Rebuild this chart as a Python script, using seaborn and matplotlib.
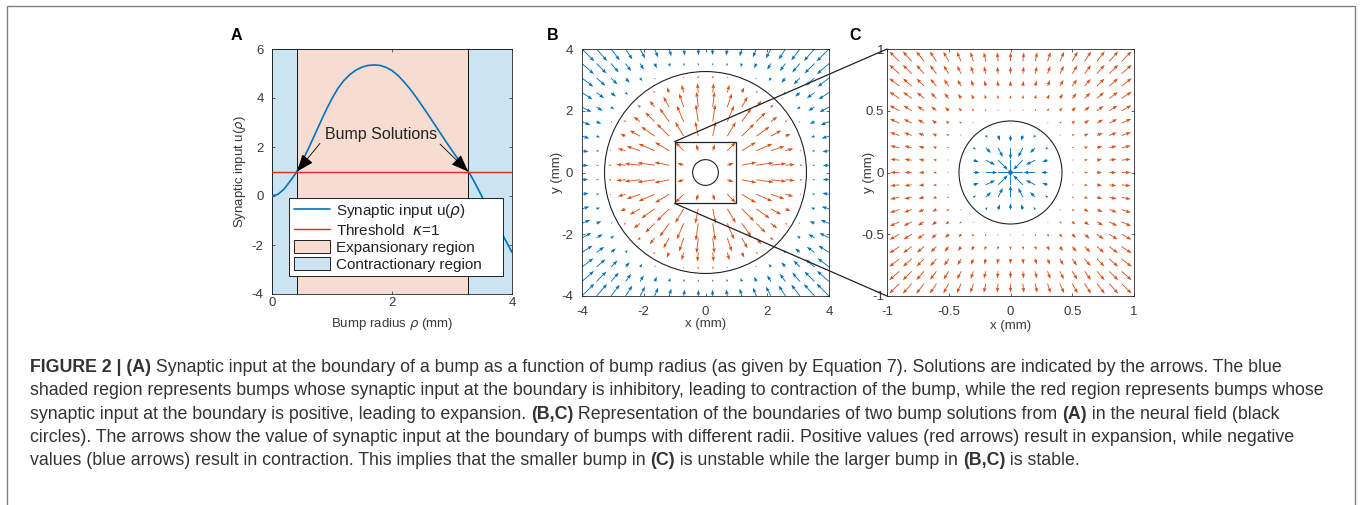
import numpy as np
import pandas as pd
import seaborn as sns
import matplotlib
matplotlib.use("Agg")
import matplotlib.pyplot as plt
from matplotlib import font_manager as fm
from matplotlib.patches import Rectangle, Circle, Patch, ConnectionPatch
from matplotlib.lines import Line2D
from matplotlib.colors import to_rgba

# ---------------- data ----------------
rho = [0.0, 0.1, 0.2, 0.3, 0.4, 0.5, 0.6, 0.7, 0.8, 0.9,
       1.0, 1.1, 1.2, 1.3, 1.4, 1.5, 1.6, 1.7, 1.8, 1.9,
       2.0, 2.1, 2.2, 2.3, 2.4, 2.5, 2.6, 2.7, 2.8, 2.9,
       3.0, 3.1, 3.2, 3.3, 3.4, 3.5, 3.6, 3.7, 3.8, 3.9, 4.0]
u_rho = [0.00, 0.07, 0.28, 0.60, 0.94, 1.40, 1.90, 2.43, 2.97, 3.50,
         3.98, 4.40, 4.72, 4.96, 5.14, 5.26, 5.33, 5.35, 5.33, 5.25,
         5.12, 4.92, 4.66, 4.37, 4.04, 3.69, 3.33, 2.96, 2.59, 2.22,
         1.86, 1.51, 1.19, 0.90, 0.45, -0.03, -0.48, -0.93, -1.38, -1.84, -2.30]
# radial profile beyond the panel-A range (needed for the corners of panel B)
rho_ext = [4.2, 4.4, 4.6, 4.8, 5.0, 5.2, 5.4, 5.6, 5.8]
u_ext = [-3.25, -4.15, -5.0, -5.8, -6.5, -7.15, -7.7, -8.2, -8.6]

kappa = 1.0
rho_solutions = [0.417, 3.27]

xticks_A = [0, 2, 4]
yticks_A = [-4, -2, 0, 2, 4, 6]
ticks_B = [-4, -2, 0, 2, 4]
ticks_C = [-1, -0.5, 0, 0.5, 1]
ticklabels_C = ["-1", "-0.5", "0", "0.5", "1"]
legend_labels = ["Synaptic input u($\\rho$)", "Threshold  $\\kappa$=1",
                 "Expansionary region", "Contractionary region"]
grid_n_B = 18
grid_n_C = 21

caption_lines = [
    [("FIGURE 2 | (A)", True), (" Synaptic input at the boundary of a bump as a function of bump radius (as given by Equation 7). Solutions are indicated by the arrows. The blue", False)],
    [("shaded region represents bumps whose synaptic input at the boundary is inhibitory, leading to contraction of the bump, while the red region represents bumps whose", False)],
    [("synaptic input at the boundary is positive, leading to expansion. ", False), ("(B,C)", True), (" Representation of the boundaries of two bump solutions from ", False), ("(A)", True), (" in the neural field (black", False)],
    [("circles). The arrows show the value of synaptic input at the boundary of bumps with different radii. Positive values (red arrows) result in expansion, while negative", False)],
    [("values (blue arrows) result in contraction. This implies that the smaller bump in ", False), ("(C)", True), (" is unstable while the larger bump in ", False), ("(B,C)", True), (" is stable.", False)],
]

# ---------------- style ----------------
sns.set_theme(style="white")
plt.rcParams["font.family"] = ["Liberation Sans", "DejaVu Sans"]
plt.rcParams["mathtext.fontset"] = "dejavusans"
plt.rcParams["axes.unicode_minus"] = False

_names = {f.name for f in fm.fontManager.ttflist}
CAP_FAMILY = ["Liberation Sans Narrow", "Liberation Sans", "DejaVu Sans"] \
    if "Liberation Sans Narrow" in _names else ["Liberation Sans", "DejaVu Sans"]

BLUE = "#0072BD"
RED = "#D95319"
THR = "#E3262A"
AXC = "#262626"
TXT = "#3a3a3a"
fill_exp = tuple(1 - 0.2 * (1 - c) for c in to_rgba(RED)[:3])
fill_con = tuple(1 - 0.2 * (1 - c) for c in to_rgba(BLUE)[:3])

W, H = 1360, 505
fig = plt.figure(figsize=(W / 100, H / 100), dpi=100)


def px_axes(l, t, r, b):
    return fig.add_axes([l / W, 1 - b / H, (r - l) / W, (b - t) / H])


def style_axes(ax, xpad, ypad):
    for s in ax.spines.values():
        s.set_color(AXC)
        s.set_linewidth(0.6)
        s.set_visible(True)
    ax.tick_params(direction="in", length=2.5, width=0.5, colors=AXC,
                   labelcolor=TXT, labelsize=9.5, top=True, right=True,
                   bottom=True, left=True)
    ax.tick_params(axis="x", pad=xpad)
    ax.tick_params(axis="y", pad=ypad)
    ax.set_facecolor("white")
    ax.grid(False)


axA = px_axes(272, 49, 512, 294)
axB = px_axes(582, 49, 829, 296)
axC = px_axes(887, 49, 1134, 296)

# ---------------- panel A ----------------
xA0, xA1 = 0, 4
axA.axvspan(xA0, rho_solutions[0], facecolor=fill_con, edgecolor="black", lw=0.6, zorder=0)
axA.axvspan(rho_solutions[0], rho_solutions[1], facecolor=fill_exp, edgecolor="black", lw=0.6, zorder=0)
axA.axvspan(rho_solutions[1], xA1, facecolor=fill_con, edgecolor="black", lw=0.6, zorder=0)
dfA = pd.DataFrame({"rho": rho, "u": u_rho})
sns.lineplot(data=dfA, x="rho", y="u", ax=axA, color=BLUE, lw=1.2,
             estimator=None, sort=False, zorder=3)
axA.axhline(kappa, color=THR, lw=1.0, zorder=3)
axA.set_xlim(xA0, xA1)
axA.set_ylim(-4, 6)
axA.set_xticks(xticks_A)
axA.set_yticks(yticks_A)
axA.set_xlabel("Bump radius $\\rho$ (mm)", fontsize=9.5, color=TXT)
axA.set_ylabel("Synaptic input u($\\rho$)", fontsize=9.5, color=TXT)
axA.xaxis.set_label_coords(0.5, -0.09)
axA.yaxis.set_label_coords(-0.1, 0.5)
style_axes(axA, 2.5, 6)

axA.text(1.82, 2.49, "Bump Solutions", ha="center", va="center", fontsize=11.5,
         color="#222222", zorder=5)
arrow_kw = dict(arrowstyle="-|>,head_length=0.9,head_width=0.35", color="black",
                lw=0.6, mutation_scale=12, shrinkA=0, shrinkB=0)
axA.annotate("", xy=(rho_solutions[0], kappa), xytext=(0.8, 2.15), arrowprops=arrow_kw, zorder=5)
axA.annotate("", xy=(rho_solutions[1], kappa), xytext=(2.8, 2.12), arrowprops=arrow_kw, zorder=5)

handles = [Line2D([], [], color=BLUE, lw=1.2), Line2D([], [], color=THR, lw=1.0),
           Patch(facecolor=fill_exp, edgecolor="black", lw=0.6),
           Patch(facecolor=fill_con, edgecolor="black", lw=0.6)]
leg = axA.legend(handles, legend_labels, loc="upper left",
                 bbox_to_anchor=(0.071, 0.0, 0.892, 0.393), mode="expand",
                 borderaxespad=0, frameon=True, fancybox=False, framealpha=1,
                 edgecolor="black", fontsize=11, handlelength=2.4, handleheight=0.95,
                 handletextpad=0.35, labelspacing=0.15, borderpad=0.3)
leg.get_frame().set_linewidth(0.6)
leg.set_zorder(6)
for t in leg.get_texts():
    t.set_color("#222222")

# ---------------- quiver fields ----------------
rho_all = np.array(rho + rho_ext)
u_all = np.array(u_rho + u_ext)


def field(lim, n):
    g = np.linspace(-lim, lim, n)
    X, Y = np.meshgrid(g, g)
    R = np.hypot(X, Y)
    with np.errstate(invalid="ignore", divide="ignore"):
        ex = np.where(R > 0, X / R, 0.0)
        ey = np.where(R > 0, Y / R, 0.0)
    val = np.interp(R, rho_all, u_all) - kappa
    VX, VY = val * ex, val * ey
    dx = 2 * lim / n
    maxlen_ref = 0.9 * np.sqrt(2) * dx
    return X, Y, VX, VY, val, maxlen_ref


def draw_quiver(ax, lim, n):
    X, Y, VX, VY, val, Lref = field(lim, n)
    for mask, col in [(val > 0, RED), (val < 0, BLUE)]:
        vx = np.where(mask, VX, np.nan)
        vy = np.where(mask, VY, np.nan)
        mag = np.sqrt(vx ** 2 + vy ** 2)
        mmax = np.nanmax(mag)
        sc = mmax / Lref
        ax.quiver(X, Y, np.ma.masked_invalid(vx), np.ma.masked_invalid(vy),
                  color=col, angles="xy", scale_units="xy", scale=sc,
                  width=0.0036, headwidth=4.0, headlength=5.5, headaxislength=5.0,
                  minshaft=1, minlength=0.3, pivot="tail", zorder=2)


# ---------------- panel B ----------------
draw_quiver(axB, 4, grid_n_B)
axB.add_patch(Circle((0, 0), rho_solutions[1], fill=False, ec="#222222", lw=0.8, zorder=4))
axB.add_patch(Circle((0, 0), rho_solutions[0], fill=False, ec="#222222", lw=0.8, zorder=4))
axB.add_patch(Rectangle((-1, -1), 2, 2, fill=False, ec="#222222", lw=0.9, zorder=4))
axB.set_xlim(-4, 4)
axB.set_ylim(-4, 4)
axB.set_xticks(ticks_B)
axB.set_yticks(ticks_B)
axB.set_xlabel("x (mm)", fontsize=9.5, color=TXT)
axB.set_ylabel("y (mm)", fontsize=9.5, color=TXT)
axB.xaxis.set_label_coords(0.5, -0.089)
axB.yaxis.set_label_coords(-0.077, 0.5)
style_axes(axB, 7, 6.5)

# ---------------- panel C ----------------
draw_quiver(axC, 1, grid_n_C)
axC.add_patch(Circle((0, 0), rho_solutions[0], fill=False, ec="#222222", lw=0.8, zorder=4))
axC.set_xlim(-1, 1)
axC.set_ylim(-1, 1)
axC.set_xticks(ticks_C)
axC.set_xticklabels(ticklabels_C)
axC.set_yticks(ticks_C)
axC.set_yticklabels(ticklabels_C)
axC.set_xlabel("x (mm)", fontsize=9.5, color=TXT)
axC.set_ylabel("y (mm)", fontsize=9.5, color=TXT)
axC.xaxis.set_label_coords(0.5, -0.097)
axC.yaxis.set_label_coords(-0.049, 0.5)
style_axes(axC, 7, 2)

# zoom connectors
for yy in (1, -1):
    con = ConnectionPatch(xyA=(-1, yy), coordsA=axB.transData,
                          xyB=(-1, yy), coordsB=axC.transData,
                          color="#222222", lw=0.9, zorder=10)
    fig.add_artist(con)

# panel letters
for lab, xpx in (("A", 236), ("B", 553), ("C", 855)):
    fig.text(xpx / W, 1 - 35 / H, lab, fontsize=11.5, fontweight="bold",
             ha="center", va="center", color="black")

# outer frame
fig.add_artist(Rectangle((7 / W, -0.1), (1355 - 7) / W, 1.1 - 6 / H,
                         transform=fig.transFigure, fill=False,
                         ec="#808080", lw=1.0))

# ---------------- caption ----------------
renderer = fig.canvas.get_renderer()
cap_x0 = 30
cap_base = [372, 395.3, 418.6, 441.9, 465.2]
cap_right = [1322, 1327, 1244, 1311]


def layout_caption(size):
    created = []
    widths = []
    for line, yb in zip(caption_lines, cap_base):
        x = cap_x0
        for txt, bold in line:
            t = fig.text(x / W, 1 - yb / H, txt, fontsize=size, family=CAP_FAMILY,
                         fontweight="bold" if bold else "normal",
                         ha="left", va="baseline", color="#333333")
            bb = t.get_window_extent(renderer=renderer)
            x += bb.width
            created.append(t)
        widths.append(x - cap_x0)
    return created, widths


tmp, wds = layout_caption(12)
for t in tmp:
    t.remove()
ratios = [(r - cap_x0) / w for r, w in zip(cap_right, wds[:4])]
fit = 12 * float(np.mean(ratios))
layout_caption(fit)

fig.savefig("out.png", dpi=100)
